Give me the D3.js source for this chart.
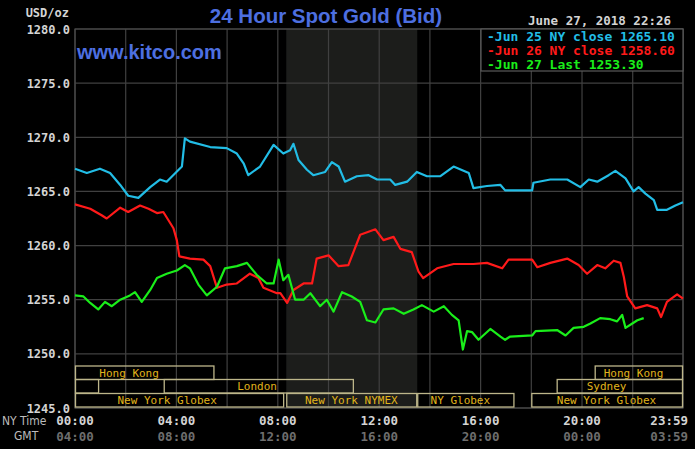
<!DOCTYPE html>
<html>
<meta charset='utf-8'>
<head>
<title>24 Hour Spot Gold</title>
<script src='https://d3js.org/d3.v7.min.js'></script>
<style>
body { margin: 0; background: #000; }
</style>
</head>
<body>
<div id='chart'></div>
<script>
// NY time (H:MM), price
var jun25 = [['0:00',1267.1],['0:28',1266.7],['0:59',1267.1],['1:23',1266.7],['1:47',1265.6],['2:06',1264.6],
  ['2:30',1264.4],['2:58',1265.4],['3:21',1266.1],['3:37',1265.9],['4:13',1267.3],['4:20',1269.9],['4:32',1269.6],
  ['5:20',1269.1],['5:59',1269.0],['6:23',1268.5],['6:39',1267.6],['6:50',1266.5],['7:18',1267.3],['7:50',1269.3],
  ['8:13',1268.5],['8:29',1268.8],['8:37',1269.4],['8:49',1267.9],['9:09',1267.0],['9:24',1266.5],['9:52',1266.8],
  ['10:08',1267.7],['10:24',1267.3],['10:39',1265.9],['11:07',1266.4],['11:35',1266.5],['11:55',1266.1],['12:26',1266.1],
  ['12:38',1265.6],['13:06',1265.9],['13:29',1266.8],['13:53',1266.4],['14:24',1266.4],['14:56',1267.3],['15:32',1266.7],
  ['15:43',1265.3],['16:15',1265.5],['16:47',1265.6],['16:58',1265.1],['18:02',1265.1],['18:05',1265.8],['18:45',1266.1],
  ['19:25',1266.1],['19:56',1265.4],['20:16',1266.1],['20:36',1265.9],['21:03',1266.5],['21:19',1266.9],['21:43',1266.2],
  ['22:02',1265.0],['22:14',1265.4],['22:30',1264.8],['22:50',1264.2],['22:58',1263.3],['23:21',1263.3],['23:41',1263.7],
  ['23:59',1264.0]]
var jun26 = [['0:00',1263.8],['0:36',1263.4],['1:03',1262.8],['1:15',1262.5],['1:47',1263.5],['2:06',1263.1],
  ['2:34',1263.7],['2:54',1263.4],['3:14',1263.0],['3:29',1263.1],['3:53',1261.6],['4:01',1260.5],['4:07',1259.0],
  ['4:32',1258.8],['5:04',1258.7],['5:20',1258.1],['5:36',1256.1],['5:59',1256.4],['6:23',1256.5],['6:54',1257.4],
  ['7:14',1257.0],['7:26',1256.1],['7:58',1255.6],['8:06',1255.6],['8:22',1254.7],['8:37',1255.9],['9:01',1256.5],
  ['9:21',1256.5],['9:32',1258.8],['10:00',1259.1],['10:24',1258.1],['10:47',1258.2],['11:15',1261.0],['11:51',1261.5],
  ['12:10',1260.5],['12:34',1260.8],['12:50',1259.7],['13:17',1259.4],['13:33',1257.6],['13:44',1257.0],['14:17',1257.9],
  ['14:56',1258.3],['15:43',1258.3],['16:15',1258.4],['16:51',1257.9],['17:06',1258.7],['18:02',1258.7],['18:14',1258.0],
  ['18:45',1258.4],['19:25',1258.8],['19:52',1258.2],['20:12',1257.4],['20:36',1258.2],['20:55',1257.9],['21:15',1258.6],
  ['21:31',1258.4],['21:39',1257.1],['21:47',1255.3],['22:06',1254.2],['22:34',1254.5],['22:58',1254.2],['23:07',1253.4],
  ['23:21',1254.8],['23:45',1255.5],['23:59',1255.1]]
var jun27 = [['0:00',1255.4],['0:20',1255.3],['0:36',1254.7],['0:55',1254.1],['1:11',1254.8],['1:27',1254.4],
  ['1:47',1255.0],['2:10',1255.4],['2:22',1255.7],['2:38',1254.8],['2:58',1255.9],['3:14',1257.0],['3:37',1257.4],
  ['4:01',1257.7],['4:20',1258.2],['4:32',1257.9],['4:52',1256.4],['5:12',1255.4],['5:36',1256.2],['5:55',1257.9],
  ['6:23',1258.1],['6:47',1258.4],['7:10',1257.3],['7:34',1256.5],['7:50',1256.5],['8:02',1258.7],['8:13',1256.8],
  ['8:25',1257.3],['8:41',1255.0],['9:01',1255.0],['9:17',1255.6],['9:40',1254.4],['9:56',1255.0],['10:12',1253.9],
  ['10:32',1255.7],['10:55',1255.3],['11:15',1254.8],['11:31',1253.1],['11:51',1252.9],['12:10',1254.1],['12:34',1254.2],
  ['12:58',1253.7],['13:21',1254.1],['13:41',1254.5],['14:09',1253.9],['14:33',1254.4],['14:52',1253.6],['15:08',1253.1],
  ['15:18',1250.4],['15:28',1252.1],['15:40',1252.0],['15:55',1251.3],['16:23',1252.3],['16:47',1251.6],['16:58',1251.3],
  ['17:10',1251.6],['18:02',1251.7],['18:10',1252.1],['19:01',1252.2],['19:21',1251.7],['19:40',1252.4],['20:04',1252.5],
  ['20:20',1252.8],['20:43',1253.3],['21:07',1253.2],['21:23',1253.0],['21:35',1253.6],['21:43',1252.4],['21:59',1252.8],
  ['22:11',1253.1],['22:26',1253.3]]

var seriesNames = ['Jun 25 NY close 1265.10', 'Jun 26 NY close 1258.60', 'Jun 27 Last 1253.30']
var seriesColors = ['#22bde6', '#ff1a1a', '#1aee1a']

var yTicks = [1245, 1250, 1255, 1260, 1265, 1270, 1275, 1280]
var xTicks = ['0:00', '4:00', '8:00', '12:00', '16:00', '20:00', '23:59']
var nyLabels = ['00:00', '04:00', '08:00', '12:00', '16:00', '20:00', '23:59']
var gmtLabels = ['04:00', '08:00', '12:00', '16:00', '20:00', '00:00', '03:59']
var pitHours = ['8:20', '13:30']

// sessions: row, start, end, label, label centre
var sessions = [
  [0, '0:00', '5:30', 'Hong Kong', '2:08'],
  [0, '20:30', '23:59', 'Hong Kong', '22:02'],
  [1, '0:00', '0:57', '', '0:00'],
  [1, '3:30', '11:00', 'London', '7:11'],
  [1, '19:00', '23:59', 'Sydney', '20:58'],
  [2, '0:00', '8:15', 'New York Globex', '3:38'],
  [2, '8:20', '13:30', 'New York NYMEX', '10:54'],
  [2, '13:30', '17:20', 'NY Globex', '15:12'],
  [2, '18:00', '23:59', 'New York Globex', '20:58']
]

function mins(s) { var p = s.split(':'); return +p[0] * 60 + +p[1] }

var W = 695, H = 449
var margin = {left: 75, right: 683, top: 29, bottom: 408}
var mono = "'DejaVu Sans Mono', monospace"

var svg = d3.select('#chart').append('svg')
  .attr('width', W).attr('height', H)
  .style('background', '#000')

var x = d3.scaleLinear().domain([0, 1439]).range([margin.left, margin.right])
var y = d3.scaleLinear().domain([1245, 1280]).range([margin.bottom, margin.top])

// pit session shading
svg.append('rect')
  .attr('x', x(mins(pitHours[0]))).attr('y', margin.top)
  .attr('width', x(mins(pitHours[1])) - x(mins(pitHours[0])))
  .attr('height', margin.bottom - margin.top)
  .attr('fill', '#1c1d1b')

// grid
var grid = svg.append('g').attr('stroke', '#404040').attr('stroke-width', 1.2)
d3.range(0, 1440, 120).concat([1439]).forEach(function(m) {
  grid.append('line').attr('x1', x(m)).attr('x2', x(m)).attr('y1', margin.top).attr('y2', margin.bottom)
})
yTicks.forEach(function(v) {
  grid.append('line').attr('x1', margin.left).attr('x2', margin.right).attr('y1', y(v)).attr('y2', y(v))
})
svg.append('rect').attr('x', margin.left).attr('y', margin.top)
  .attr('width', margin.right - margin.left).attr('height', margin.bottom - margin.top)
  .attr('fill', 'none').attr('stroke', '#4a4a4a').attr('stroke-width', 1.2)

// session boxes
var rowTop = [366, 379.5, 393.5], rowH = 13.5
sessions.forEach(function(s) {
  var x0 = x(mins(s[1])), x1 = x(mins(s[2]))
  svg.append('rect')
    .attr('x', x0 + 0.5).attr('y', rowTop[s[0]])
    .attr('width', x1 - x0 - 1).attr('height', rowH)
    .attr('fill', 'none').attr('stroke', '#bdb68a').attr('stroke-width', 1.3)
  if (s[3]) {
    svg.append('text')
      .attr('x', x(mins(s[4]))).attr('y', rowTop[s[0]] + rowH / 2 + 1)
      .attr('text-anchor', 'middle').attr('dominant-baseline', 'middle')
      .attr('font-family', mono).attr('font-size', 11)
      .attr('fill', '#e0b41c')
      .text(s[3])
  }
})

// price lines
var line = d3.line()
  .x(function(d) { return x(mins(d[0])) })
  .y(function(d) { return y(d[1]) })
;[jun25, jun26, jun27].forEach(function(data, i) {
  svg.append('path').datum(data)
    .attr('d', line)
    .attr('fill', 'none')
    .attr('stroke', seriesColors[i])
    .attr('stroke-width', 2.2)
    .attr('stroke-linejoin', 'round')
})

// y labels
yTicks.forEach(function(v) {
  svg.append('text')
    .attr('x', 70).attr('y', y(v) + 1)
    .attr('text-anchor', 'end').attr('dominant-baseline', 'middle')
    .attr('font-family', mono).attr('font-size', 12).attr('font-weight', 'bold')
    .attr('fill', '#d4d4d4')
    .text(d3.format('.1f')(v))
})
svg.append('text').attr('x', 69).attr('y', 17).attr('text-anchor', 'end')
  .attr('font-family', mono).attr('font-size', 12).attr('font-weight', 'bold')
  .attr('fill', '#d4d4d4').text('USD/oz')

// x labels
xTicks.forEach(function(t, i) {
  var last = i === xTicks.length - 1
  var xx = last ? 688 : x(mins(t))
  var anchor = last ? 'end' : 'middle'
  svg.append('text').attr('x', xx).attr('y', 425).attr('text-anchor', anchor)
    .attr('font-family', mono).attr('font-size', 12.5).attr('font-weight', 'bold')
    .attr('fill', '#d4d4d4').text(nyLabels[i])
  svg.append('text').attr('x', xx).attr('y', 441).attr('text-anchor', anchor)
    .attr('font-family', mono).attr('font-size', 12.5).attr('font-weight', 'bold')
    .attr('fill', '#6e6e6e').text(gmtLabels[i])
})
svg.append('text').attr('x', 2).attr('y', 425)
  .attr('font-family', "'Liberation Sans Narrow', 'DejaVu Sans Condensed', sans-serif").attr('font-size', 12)
  .attr('fill', '#bcbcbc').text('NY Time')
svg.append('text').attr('x', 14).attr('y', 440)
  .attr('font-family', "'Liberation Sans Narrow', 'DejaVu Sans Condensed', sans-serif").attr('font-size', 12)
  .attr('fill', '#bcbcbc').text('GMT')

// titles
svg.append('text').attr('x', 326).attr('y', 23).attr('text-anchor', 'middle')
  .attr('font-family', "'Liberation Sans', Arial, sans-serif").attr('font-size', 20.5).attr('font-weight', 'bold')
  .attr('fill', '#4d6fe0').text('24 Hour Spot Gold (Bid)')
svg.append('text').attr('x', 77).attr('y', 59)
  .attr('font-family', "'Liberation Sans', Arial, sans-serif").attr('font-size', 20).attr('font-weight', 'bold')
  .attr('fill', '#4d6fe0').text('www.kitco.com')
svg.append('text').attr('x', 671).attr('y', 25).attr('text-anchor', 'end')
  .attr('font-family', mono).attr('font-size', 12.5).attr('font-weight', 'bold')
  .attr('fill', '#d4d4d4').text('June 27, 2018 22:26')

// legend
svg.append('rect').attr('x', 481).attr('y', margin.top).attr('width', margin.right - 481).attr('height', 42)
  .attr('fill', '#000').attr('stroke', '#5a5a5a').attr('stroke-width', 1.2)
seriesNames.forEach(function(n, i) {
  svg.append('text').attr('x', 487).attr('y', 37 + i * 14)
    .attr('dominant-baseline', 'middle')
    .attr('font-family', mono).attr('font-size', 13).attr('font-weight', 'bold')
    .attr('fill', seriesColors[i]).text('-' + n)
})
</script>
</body>
</html>
